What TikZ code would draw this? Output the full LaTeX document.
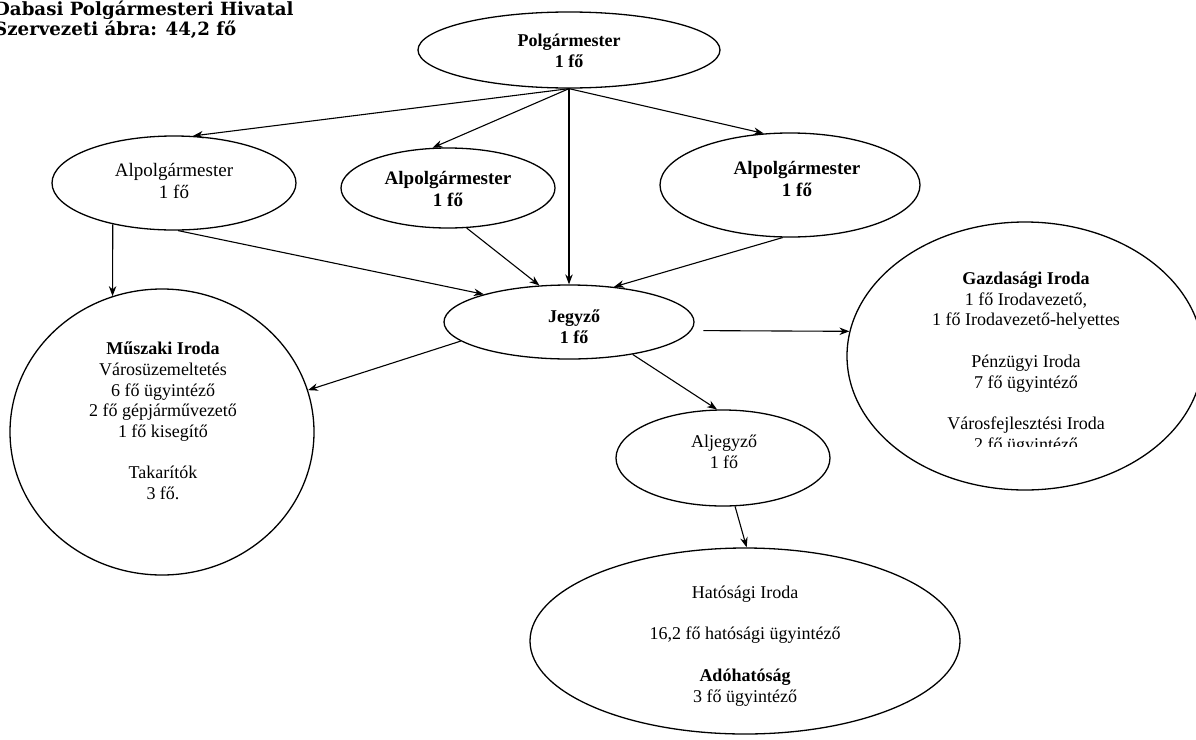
\documentclass[tikz,border=0pt]{standalone}
\usepackage{fontspec}
\setmainfont{Liberation Serif}
\newfontfamily\titlefont{DejaVu Serif}
\usetikzlibrary{shapes.geometric,arrows.meta}
\begin{document}
\begin{tikzpicture}[x=1pt,y=-1pt,
  ell/.style={draw, ellipse, line width=1.3pt, inner sep=0pt},
  txt/.style={align=center, inner sep=0pt, font=\fontsize{18}{20.7}\selectfont},
  btxt/.style={txt, font=\fontsize{18}{20.7}\selectfont\bfseries},
  alptxt/.style={txt, font=\fontsize{19}{22}\selectfont},
  balptxt/.style={txt, font=\fontsize{19}{22}\selectfont\bfseries},
  conn/.style={line width=1.1pt, -{Stealth[length=10pt,width=7.5pt]}},
  ttl/.style={anchor=base west, inner sep=0pt, font=\titlefont\bfseries\fontsize{18.2}{20}\selectfont}]
\useasboundingbox (0,0) rectangle (1196,739);
\fill[white] (0,0) rectangle (1196,739);

% title
\node[ttl] (title1) at (-6,15) {Dabasi Polgármesteri Hivatal};
\node[ttl] (title2) at (-6,35) {Szervezeti ábra: 44,2 fő};

% shapes
\node[ell, minimum width=302pt, minimum height=76pt] (polg) at (569,50) {};
\node[ell, minimum width=244pt, minimum height=94pt] (alpL) at (174,183) {};
\node[ell, minimum width=214pt, minimum height=80pt] (alpM) at (448,188) {};
\node[ell, minimum width=260pt, minimum height=104pt] (alpR) at (790,185) {};
\node[ell, minimum width=250pt, minimum height=74pt] (jegyzo) at (569,322) {};
\node[ell, minimum width=304pt, minimum height=286pt] (muszaki) at (162,432) {};
\node[ell, minimum width=356pt, minimum height=268pt] (gazd) at (1025,356) {};
\node[ell, minimum width=214pt, minimum height=96pt] (aljegyzo) at (723,458) {};
\node[ell, minimum width=430pt, minimum height=186pt] (hatosagi) at (745,641) {};

% texts
\node[btxt] (tpolg) at (569,51) {Polgármester\\1 fő};
\node[alptxt] (talpL) at (174,181) {Alpolgármester\\1 fő};
\node[balptxt] (talpM) at (448,189) {Alpolgármester\\1 fő};
\node[balptxt] (talpR) at (797,179) {Alpolgármester\\1 fő};
\node[btxt] (tjegyzo) at (574,327) {Jegyző\\1 fő};
\node[txt] (taljegyzo) at (724,452) {Aljegyző\\1 fő};
\node[txt] (tmuszaki) at (163,421) {\textbf{Műszaki Iroda}\\Városüzemeltetés\\6 fő ügyintéző\\2 fő gépjárművezető\\1 fő kisegítő\\[20.7pt]Takarítók\\3 fő.};
\begin{scope}
  \clip (800,200) rectangle (1196,446.5);
  \node[txt] (tgazd) at (1026,363) {\textbf{Gazdasági Iroda}\\1 fő Irodavezető,\\1 fő Irodavezető-helyettes\\[20.7pt]Pénzügyi Iroda\\7 fő ügyintéző\\[20.7pt]Városfejlesztési Iroda\\2 fő ügyintéző};
\end{scope}
\node[txt] (thatosagi) at (745,646) {Hatósági Iroda\\[20.7pt]16,2 fő hatósági ügyintéző\\[20.7pt]\textbf{Adóhatóság}\\3 fő ügyintéző};

% connectors
\draw[conn] (polg.south) -- (alpL.68);
\draw[conn] (polg.south) -- (alpM.111);
\draw[conn] (polg.south) -- (alpR.117);
\draw[conn] (polg.south) -- (jegyzo.north);
\draw[conn] (alpL.214) -- (muszaki.110);
\draw[conn] (alpL.-85) -- (jegyzo.162);
\draw[conn] (alpM.-65) -- (jegyzo.129);
\draw[conn] (alpR.-98) -- (jegyzo.38);
\draw[conn] (jegyzo.190) -- (muszaki.16);
\draw[conn, shorten <=12pt] (jegyzo.-4) -- (gazd.172);
\draw[conn] (jegyzo.-27) -- (aljegyzo.97);
\draw[conn] (aljegyzo.-76) -- (hatosagi.89);
\end{tikzpicture}
\end{document}
